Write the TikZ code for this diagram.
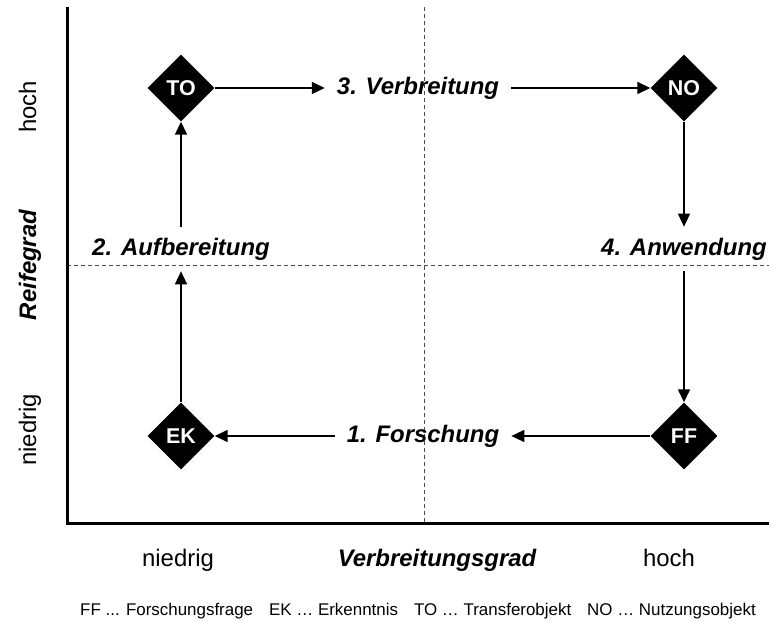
\documentclass[tikz,border=0pt]{standalone}
\usepackage{fontspec}
\setmainfont{Liberation Sans}
\usetikzlibrary{shapes.geometric,arrows.meta}
\begin{document}
\begin{tikzpicture}[x=1bp,y=1bp,
	diam/.style={diamond, fill=black, text=white, font=\fontsize{21.5}{24}\selectfont\bfseries, minimum width=67bp, minimum height=67bp, inner sep=0pt},
	phase/.style={font=\fontsize{24}{28}\selectfont\bfseries\itshape, inner xsep=12bp, inner ysep=11bp},
	achse/.style={font=\fontsize{24}{28}\selectfont, text height=17bp, text depth=5bp},
	pfeil/.style={-{Triangle[length=13bp,width=12bp]}, line width=1.5bp},
	grenze/.style={dash pattern=on 4bp off 3bp, line width=1bp, black!70}]
		\useasboundingbox (0,0) rectangle (769,623);
		
		\draw [grenze] (424,616) -- (424,99);
		\draw [grenze] (67,357) -- (769,357);
		\draw [line width=3bp] (67,616) -- (67,99) -- (769,99);
		
		\node (TO) at (181,535) [diam] {TO};
		\node (NO) at (684,535) [diam] {NO};
		\node (EK) at (181,187) [diam] {EK};
		\node (FF) at (684,187) [diam] {FF};
		
		\node (l1) at (423,187) [phase] {1. Forschung};
		\node (l2) at (181,374) [phase] {2. Aufbereitung};
		\node (l3) at (418,535) [phase] {3. Verbreitung};
		\node (l4) at (684,374) [phase] {4. Anwendung};
		
		\draw [pfeil] (FF) -- (l1);
		\draw [pfeil] (l1) -- (EK);
		\draw [pfeil] (EK) -- (l2);
		\draw [pfeil] (l2) -- (TO);
		\draw [pfeil] (TO) -- (l3);
		\draw [pfeil] (l3) -- (NO);
		\draw [pfeil] (NO) -- (l4);
		\draw [pfeil] (l4) -- (FF);
		
		\node (xn) at (178,62) [achse] {niedrig};
		\node (xt) at (437,62) [achse, font=\fontsize{24}{28}\selectfont\bfseries\itshape] {Verbreitungsgrad};
		\node (xh) at (669,62) [achse] {hoch};
		\node (yh) at (30,516) [achse, rotate=90] {hoch};
		\node (yt) at (30,358) [achse, rotate=90, font=\fontsize{24}{28}\selectfont\bfseries\itshape] {Reifegrad};
		\node (yn) at (30,193) [achse, rotate=90] {niedrig};
		
		\node (leg) at (418,12) [font=\fontsize{17}{20}\selectfont] {FF ... Forschungsfrage\hspace{16bp}EK … Erkenntnis\hspace{16bp}TO … Transferobjekt\hspace{16bp}NO … Nutzungsobjekt};
		\end{tikzpicture}
\end{document}
